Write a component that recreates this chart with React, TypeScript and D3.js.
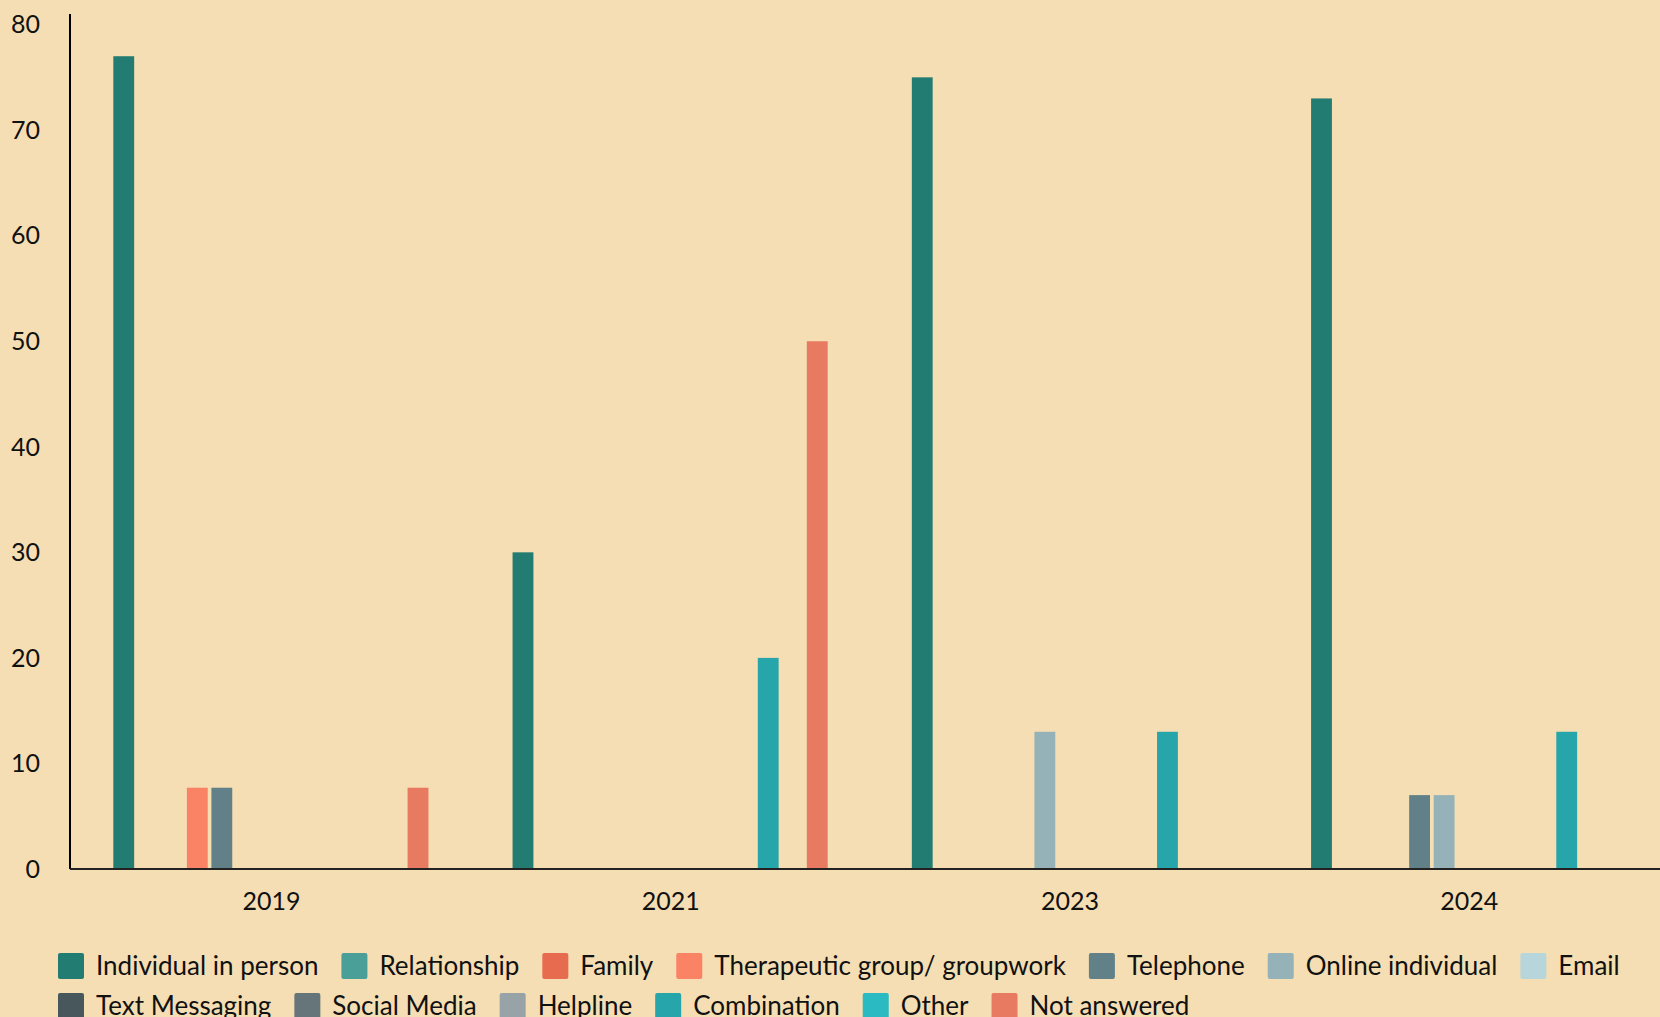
import React, { useMemo } from "react";
import * as d3 from "d3";

// Reporting years shown on the x axis
const years = ["2019", "2021", "2023", "2024"];

// Delivery modes, in legend / bar order
const modes = [
  "Individual in person",
  "Relationship",
  "Family",
  "Therapeutic group/ groupwork",
  "Telephone",
  "Online individual",
  "Email",
  "Text Messaging",
  "Social Media",
  "Helpline",
  "Combination",
  "Other",
  "Not answered",
];

const modeColors = [
  "#227c72",
  "#4a9f98",
  "#e76b4e",
  "#fa8366",
  "#628087",
  "#95b2b8",
  "#b6d6dc",
  "#48575c",
  "#667579",
  "#97a3a6",
  "#26a6ab",
  "#29bbc1",
  "#e97a62",
];

// Percentage of services per mode, one array per year (modes order)
const values2019 = [77, 0, 0, 7.7, 7.7, 0, 0, 0, 0, 0, 0, 0, 7.7];
const values2021 = [30, 0, 0, 0, 0, 0, 0, 0, 0, 0, 20, 0, 50];
const values2023 = [75, 0, 0, 0, 0, 13, 0, 0, 0, 0, 13, 0, 0];
const values2024 = [73, 0, 0, 0, 7, 7, 0, 0, 0, 0, 13, 0, 0];

const yTicks = [0, 10, 20, 30, 40, 50, 60, 70, 80];

const W = 1660;
const H = 1017;
const FONT = "Lato, 'Noto Sans', sans-serif";
const FS = 25;
const LEGEND_FS = 26;

export default function App() {
  const series = [values2019, values2021, values2023, values2024];

  const x0 = d3
    .scaleBand<string>()
    .domain(years)
    .range([70, 1671])
    .paddingInner(0.207)
    .paddingOuter(0.1085);
  const x1 = d3
    .scaleBand<string>()
    .domain(modes)
    .range([0, x0.bandwidth() - 1.5])
    .paddingInner(0.15)
    .paddingOuter(0);
  const y = d3.scaleLinear().domain([0, 81]).range([869, 14]);

  // Flow-wrapped legend, measured with the same font as drawn
  const legendItems = useMemo(() => {
    const canvas = document.createElement("canvas");
    const ctx = canvas.getContext("2d")!;
    ctx.font = `${LEGEND_FS}px Lato`;
    const sw = 26;
    const gapText = 12;
    const gapItem = 23;
    const left = 58;
    const maxRight = W - 10;
    let cx = left;
    let row = 0;
    return modes.map((m, i) => {
      const tw = ctx.measureText(m).width;
      const w = sw + gapText + tw;
      if (cx + w > maxRight && cx > left) {
        cx = left;
        row += 1;
      }
      const item = { name: m, color: modeColors[i], x: cx, row };
      cx += w + gapItem;
      return item;
    });
  }, []);

  return (
    <div style={{ position: "absolute", left: 0, top: 0 }}>
      <svg width={W} height={H} style={{ display: "block", background: "#f5deb3" }}>
        <rect x={0} y={0} width={W} height={H} fill="#f5deb3" />

        {/* bars */}
        {years.map((yr, gi) => (
          <g key={yr} transform={`translate(${x0(yr)},0)`}>
            {modes.map((m, mi) => {
              const v = series[gi][mi];
              if (!v) return null;
              return (
                <rect
                  key={m}
                  x={x1(m)}
                  y={y(v)}
                  width={x1.bandwidth()}
                  height={y(0) - y(v)}
                  fill={modeColors[mi]}
                />
              );
            })}
          </g>
        ))}

        {/* y axis */}
        <line x1={70} x2={70} y1={y.range()[1]} y2={y(0)} stroke="#000" strokeWidth={2} />
        {yTicks.map((t) => (
          <text
            key={t}
            x={40}
            y={y(t)}
            dy="0.35em"
            textAnchor="end"
            fontFamily={FONT}
            fontSize={FS}
            fill="#111"
          >
            {t}
          </text>
        ))}

        {/* x axis */}
        <line x1={70} x2={W} y1={y(0)} y2={y(0)} stroke="#222" strokeWidth={2} />
        {years.map((yr) => (
          <text
            key={yr}
            x={(x0(yr) ?? 0) + x0.bandwidth() / 2}
            y={910}
            textAnchor="middle"
            fontFamily={FONT}
            fontSize={FS}
            fill="#111"
          >
            {yr}
          </text>
        ))}

        {/* legend */}
        {legendItems.map((it) => {
          const cy = 966 + it.row * 40;
          return (
            <g key={it.name}>
              <rect x={it.x} y={cy - 13} width={26} height={26} rx={2} fill={it.color} />
              <text
                x={it.x + 38}
                y={cy}
                dy="0.36em"
                fontFamily={FONT}
                fontSize={LEGEND_FS}
                fill="#111"
              >
                {it.name}
              </text>
            </g>
          );
        })}
      </svg>
    </div>
  );
}
